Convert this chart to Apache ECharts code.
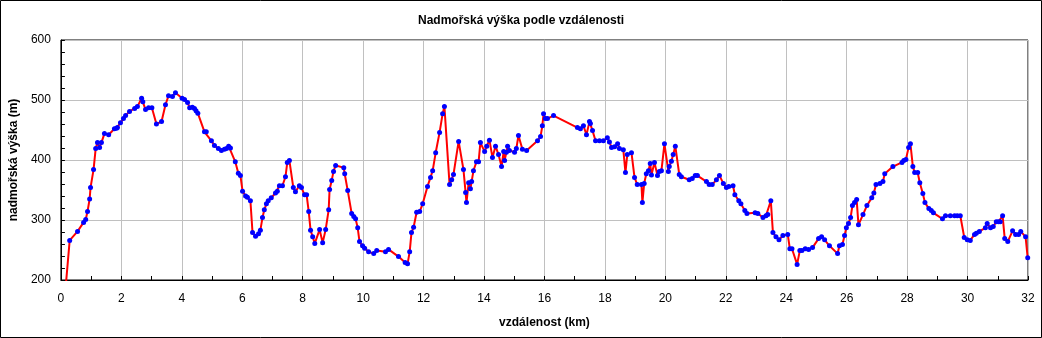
<!DOCTYPE html>
<html>
<head>
<meta charset="utf-8">
<title>Nadmořská výška podle vzdálenosti</title>
<script src="https://cdn.jsdelivr.net/npm/echarts@6/dist/echarts.min.js"></script>
<style>
  html, body { margin: 0; padding: 0; background: #fff; }
  #chart { width: 1042px; height: 338px; }
</style>
</head>
<body>
<div id="chart"></div>
<script>
// Elevation profile: distance along the route (km) and altitude (m)
const distanceKm = [
  0.17, 0.29, 0.55, 0.75, 0.82, 0.88, 0.95, 0.98, 1.08, 1.15, 1.21, 1.28, 1.34, 1.44, 1.58, 1.77, 1.84, 1.87, 1.97, 2.07,
  2.14, 2.27, 2.44, 2.53, 2.67, 2.71, 2.80, 2.90, 3.01, 3.16, 3.33, 3.46, 3.56, 3.69, 3.79,
  4.01, 4.09, 4.19, 4.26, 4.35, 4.42, 4.47, 4.53, 4.75, 4.81, 4.98, 5.08, 5.21, 5.31, 5.41, 5.48, 5.55, 5.61, 5.77, 5.87,
  5.94, 6.01, 6.11, 6.17, 6.27, 6.34, 6.44, 6.54, 6.60, 6.67, 6.73, 6.80, 6.86, 6.96, 7.10, 7.16, 7.23, 7.33, 7.43, 7.49,
  7.56, 7.69, 7.76, 7.89, 7.96, 8.06,
  8.13, 8.20, 8.26, 8.33, 8.40, 8.56, 8.66, 8.76, 8.86, 8.89, 8.96, 9.02, 9.09, 9.36, 9.39, 9.49, 9.62, 9.69, 9.75, 9.82,
  9.88, 9.98, 10.05, 10.18, 10.35, 10.45, 10.74, 10.84, 11.17, 11.39, 11.47, 11.54, 11.60, 11.67, 11.77, 11.87, 11.97, 12.13,
  12.23, 12.30, 12.40, 12.53, 12.63, 12.69, 12.86, 12.93, 12.99, 13.16, 13.32, 13.39, 13.42, 13.49, 13.55, 13.59, 13.65,
  13.75, 13.82, 13.88, 14.02, 14.09, 14.18, 14.28, 14.38, 14.48, 14.58, 14.65, 14.68, 14.74, 14.78, 14.84, 15.01, 15.07,
  15.14, 15.27, 15.41, 15.77, 15.87, 15.93, 15.97, 16.03, 16.10, 16.30,
  17.09, 17.19, 17.29, 17.39, 17.49, 17.52, 17.59, 17.69, 17.82, 17.95, 18.08, 18.15, 18.22, 18.32, 18.42, 18.48, 18.61,
  18.68, 18.74, 18.88, 18.98, 19.07, 19.21, 19.24, 19.30, 19.37, 19.44, 19.50, 19.54, 19.64, 19.74, 19.80, 19.87, 19.97,
  20.10, 20.13, 20.20, 20.26, 20.33, 20.46, 20.53,
  20.79, 20.89, 20.99, 21.06, 21.36, 21.45, 21.55, 21.69, 21.79, 21.92, 22.02, 22.10, 22.24, 22.30, 22.43, 22.50, 22.63,
  22.70, 22.97, 23.06, 23.23, 23.33, 23.39, 23.49, 23.56, 23.66, 23.76, 23.89, 24.05, 24.12, 24.19, 24.36, 24.45, 24.52,
  24.63, 24.74, 24.87, 25.07, 25.17, 25.27, 25.43, 25.70, 25.76, 25.86, 25.93, 25.99, 26.06, 26.13, 26.19, 26.26, 26.33,
  26.39, 26.54, 26.67, 26.83, 26.90, 26.97, 27.10, 27.20, 27.26, 27.53, 27.83, 27.89, 27.96, 28.05, 28.11, 28.19, 28.25,
  28.35, 28.42, 28.52, 28.59, 28.72,
  28.80, 28.87, 29.17, 29.27, 29.43, 29.57, 29.66, 29.76, 29.89, 29.99, 30.09, 30.23, 30.29, 30.39, 30.59, 30.65, 30.76,
  30.85, 30.95, 31.02, 31.08, 31.16, 31.23, 31.33, 31.49, 31.59, 31.69, 31.76, 31.92, 31.99
];

const elevationM = [
  196, 266, 281, 296, 301, 314, 335, 354, 384, 419, 429, 421, 429, 444, 442, 452, 453, 454, 462, 469,
  474, 481, 486, 489, 503, 497, 484, 487, 487, 460, 464, 492, 507, 506, 512,
  503, 501, 496, 487, 488, 486, 482, 478, 447, 447, 432, 424, 419, 416, 418, 419, 423, 420, 397, 378,
  374, 348, 340, 338, 332, 279, 273, 277, 283, 304, 317, 327, 332, 337, 345, 348, 357, 357, 372, 396,
  399, 354, 347, 357, 354, 342,
  342, 314, 283, 272, 261, 284, 262, 284, 317, 351, 366, 381, 391, 387, 377, 349, 311, 306, 302, 287,
  264, 257, 253, 247, 244, 249, 247, 251, 239, 229, 227, 247, 279, 288, 313, 314, 327, 356,
  371, 382, 412, 446, 477, 489, 359, 367, 376, 431, 384, 346, 329, 362, 352, 364, 382,
  397, 397, 429, 414, 423, 433, 404, 423, 409, 389, 414, 399, 413, 423, 416, 413, 419,
  441, 418, 416, 432, 439, 457, 477, 469, 469, 474,
  454, 452, 457, 442, 464, 461, 449, 432, 432, 432, 437, 430, 421, 422, 427, 419, 417,
  379, 409, 412, 371, 359, 359, 329, 361, 377, 382, 394, 375, 396, 374, 381, 382, 427,
  381, 389, 398, 409, 423, 376, 372,
  367, 369, 374, 374, 364, 359, 359, 367, 374, 361, 354, 356, 357, 342, 332, 327, 316,
  311, 312, 311, 304, 307, 309, 332, 279, 272, 267, 274, 276, 252, 252, 226, 249, 249,
  252, 251, 254, 269, 272, 267, 257, 244, 257, 259, 274, 287, 294, 304, 324, 329, 334,
  292, 309, 324, 337, 345, 359, 361, 364, 377, 389, 396, 399, 401, 421, 427, 389, 379,
  379, 362, 344, 329, 319,
  316, 312, 302, 307, 307, 307, 307, 307, 271, 267, 266, 276, 278, 281, 287, 294, 287,
  289, 297, 297, 297, 307, 269, 264, 282, 276, 276, 281, 272, 237
];

const xTicks = { min: 0, max: 32, step: 2 };
const yTicks = { min: 200, max: 600, step: 100 };

const profile = distanceKm.map((d, i) => [d, elevationM[i]]);

const fontFamily = '"Liberation Sans", Arial, sans-serif';
const chart = echarts.init(document.getElementById('chart'), null, { renderer: 'canvas' });

chart.setOption({
  backgroundColor: '#ffffff',
  animation: false,
  title: {
    text: 'Nadmořská výška podle vzdálenosti',
    left: 'center',
    top: 10,
    textStyle: { fontFamily, fontSize: 12, fontWeight: 'bold', color: '#000' }
  },
  graphic: [{
    type: 'rect',
    shape: { x: 0.5, y: 0.5, width: 1041, height: 337 },
    style: { fill: 'none', stroke: '#000', lineWidth: 1 },
    silent: true,
    z: 100
  }],
  grid: {
    left: 60, top: 40, width: 968, height: 240,
    show: true, borderColor: '#000', borderWidth: 1, backgroundColor: 'transparent'
  },
  xAxis: {
    type: 'value',
    min: xTicks.min, max: xTicks.max, interval: xTicks.step,
    name: 'vzdálenost (km)',
    nameLocation: 'middle',
    nameGap: 37,
    nameTextStyle: { fontFamily, fontSize: 12, fontWeight: 'bold', color: '#000' },
    axisLine: { lineStyle: { color: '#000', width: 1 } },
    axisTick: { inside: true, length: 4, lineStyle: { color: '#000' } },
    minorTick: { show: true, splitNumber: 2, length: 4, lineStyle: { color: '#000' } },
    axisLabel: { fontFamily, fontSize: 12, color: '#000', margin: 13 },
    splitLine: { show: true, lineStyle: { color: '#c0c0c0', width: 1 } }
  },
  yAxis: {
    type: 'value',
    min: yTicks.min, max: yTicks.max, interval: yTicks.step,
    name: 'nadmořská výška (m)',
    nameLocation: 'middle',
    nameGap: 40,
    nameTextStyle: { fontFamily, fontSize: 12, fontWeight: 'bold', color: '#000' },
    axisLine: { show: true, lineStyle: { color: '#000', width: 1 } },
    axisTick: { show: true, inside: true, length: 4, lineStyle: { color: '#000' } },
    minorTick: { show: true, splitNumber: 5, length: 4, lineStyle: { color: '#000' } },
    axisLabel: { fontFamily, fontSize: 12, color: '#000', margin: 10 },
    splitLine: { show: true, lineStyle: { color: '#c0c0c0', width: 1 } }
  },
  series: [{
    type: 'line',
    data: profile,
    clip: true,
    symbol: 'circle',
    symbolSize: 5,
    showAllSymbol: true,
    itemStyle: { color: '#0000ff' },
    lineStyle: { color: '#ff0000', width: 2 },
    emphasis: { disabled: true }
  }]
});
</script>
</body>
</html>
